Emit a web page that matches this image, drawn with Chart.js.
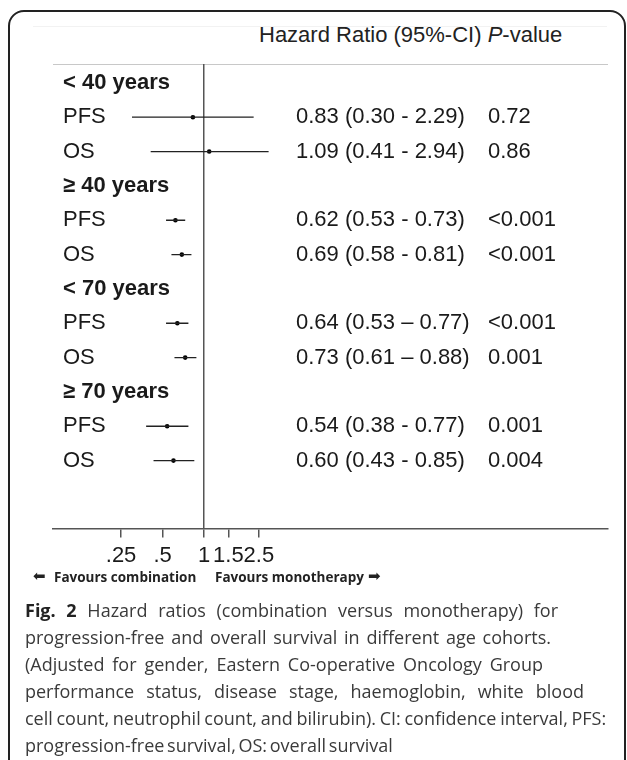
<!DOCTYPE html>
<html>
<head>
<meta charset="utf-8">
<script src="https://cdn.jsdelivr.net/npm/chart.js@4.4.1/dist/chart.umd.min.js"></script>
<style>
    html, body { margin: 0; padding: 0; background: #fff; }
    body { width: 627px; height: 760px; position: relative; overflow: hidden; }
    .frame {
        position: absolute; left: 8px; top: 10px; width: 618px; height: 780px;
        box-sizing: border-box; border: 2px solid #222; border-radius: 16px;
    }
    .faint-rule { position: absolute; left: 33px; top: 26px; width: 574px; height: 1px; background: #f2f2f2; }
    .head-rule { position: absolute; left: 53px; top: 64px; width: 555px; height: 1px; background: #c8c8c8; }
    .col-head {
        position: absolute; left: 259px; top: 22px; font: 22px "Liberation Sans", Arial, sans-serif;
        line-height: 26px; color: #222; white-space: nowrap;
    }
    #chartBox { position: absolute; left: 0; top: 0; width: 627px; height: 600px; }
    .favours {
        position: absolute; top: 568px; font: bold 13.5px "Open Sans", sans-serif; line-height: 18px;
        color: #222; white-space: nowrap;
    }
    .arrow { position: absolute; top: 566px; font: 15px "DejaVu Sans", sans-serif; line-height: 20px; color: #222; }
    .caption {
        position: absolute; left: 25px; top: 597px; font: 18px "Open Sans", sans-serif;
        line-height: 27px; color: #3a3a3a; white-space: nowrap;
    }
    .caption div { text-align: justify; text-align-last: justify; }
    .caption b { color: #222; }
</style>
</head>
<body>
<div class="frame"></div>
<div class="faint-rule"></div>
<div class="col-head">Hazard Ratio (95%-CI) <i>P</i>-value</div>
<div class="head-rule"></div>
<div id="chartBox"><canvas id="forestChart"></canvas></div>
<div class="arrow" style="left:33px">⬅</div>
<div class="favours" style="left:54px">Favours combination</div>
<div class="favours" style="left:215px">Favours monotherapy</div>
<div class="arrow" style="left:368px">➡</div>
<div class="caption">
    <div style="width:533px"><b>Fig. 2</b> Hazard ratios (combination versus monotherapy) for</div>
    <div style="width:526px">progression-free and overall survival in different age cohorts.</div>
    <div style="width:518px">(Adjusted for gender, Eastern Co-operative Oncology Group</div>
    <div style="width:559px">performance status, disease stage, haemoglobin, white blood</div>
    <div style="text-align:left;text-align-last:left;word-spacing:-1px">cell count, neutrophil count, and bilirubin). CI: confidence interval, PFS:</div>
    <div style="text-align:left;text-align-last:left;word-spacing:-2px">progression-free survival, OS: overall survival</div>
</div>

<script>
// Rows of the forest plot, top to bottom
const rowLabels = ['< 40 years', 'PFS', 'OS', '≥ 40 years', 'PFS', 'OS',
                   '< 70 years', 'PFS', 'OS', '≥ 70 years', 'PFS', 'OS'];
const hazardRatio = [null, 0.83, 1.09, null, 0.62, 0.69, null, 0.64, 0.73, null, 0.54, 0.60];
const ciLow = [null, 0.30, 0.41, null, 0.53, 0.58, null, 0.53, 0.61, null, 0.38, 0.43];
const ciHigh = [null, 2.29, 2.94, null, 0.73, 0.81, null, 0.77, 0.88, null, 0.77, 0.85];
const hrText = ['', '0.83 (0.30 - 2.29)', '1.09 (0.41 - 2.94)', '',
                '0.62 (0.53 - 0.73)', '0.69 (0.58 - 0.81)', '',
                '0.64 (0.53 – 0.77)', '0.73 (0.61 – 0.88)', '',
                '0.54 (0.38 - 0.77)', '0.60 (0.43 - 0.85)'];
const pText = ['', '0.72', '0.86', '', '<0.001', '<0.001', '', '<0.001', '0.001', '', '0.001', '0.004'];
const xTicks = [0.25, 0.5, 1, 1.5, 2.5];
const xTickLabels = ['.25', '.5', '1', '1.5', '2.5'];

const FONT = '"Liberation Sans", Arial, sans-serif';
const isHeader = i => hazardRatio[i] === null;

// CI segments, broken by empty points between rows
const ciPoints = [];
rowLabels.forEach((_, i) => {
    if (isHeader(i)) return;
    ciPoints.push({ x: ciLow[i], y: i }, { x: ciHigh[i], y: i }, { x: null, y: null });
});
const hrPoints = [];
rowLabels.forEach((_, i) => {
    if (!isHeader(i)) hrPoints.push({ x: hazardRatio[i], y: i });
});

// Estimate / CI / p-value columns
const textColumns = {
    id: 'textColumns',
    afterDraw(chart) {
        const ctx = chart.ctx;
        const y = chart.scales.y;
        ctx.save();
        ctx.font = '22px ' + FONT;
        ctx.fillStyle = '#1a1a1a';
        ctx.textBaseline = 'middle';
        ctx.textAlign = 'left';
        rowLabels.forEach((_, i) => {
            const py = y.getPixelForValue(i);
            if (hrText[i]) ctx.fillText(hrText[i], 296, py);
            if (pText[i]) ctx.fillText(pText[i], 488, py);
        });
        ctx.restore();
    }
};

new Chart(document.getElementById('forestChart'), {
    type: 'scatter',
    data: {
        datasets: [{
            data: ciPoints,
            showLine: true,
            spanGaps: false,
            borderColor: '#222',
            borderWidth: 1.3,
            pointRadius: 0
        }, {
            data: hrPoints,
            pointRadius: 2.3,
            pointBackgroundColor: '#000',
            pointBorderWidth: 0
        }]
    },
    options: {
        responsive: true,
        maintainAspectRatio: false,
        animation: false,
        layout: { padding: { left: 53, right: 19, top: 64, bottom: 26 } },
        plugins: { legend: { display: false }, tooltip: { enabled: false } },
        scales: {
            x: {
                type: 'logarithmic',
                min: 0.0802,
                max: 852,
                afterBuildTicks: axis => { axis.ticks = xTicks.map(v => ({ value: v })); },
                ticks: {
                    autoSkip: false,
                    maxRotation: 0,
                    padding: 5,
                    color: '#1a1a1a',
                    font: { family: FONT, size: 22 },
                    callback: value => xTickLabels[xTicks.indexOf(value)]
                },
                grid: {
                    color: ctx => (ctx.tick && ctx.tick.value === 1 ? '#555' : 'rgba(0,0,0,0)'),
                    tickColor: '#555',
                    tickLength: 9,
                    lineWidth: 1.5
                },
                border: { display: true, color: '#555', width: 1.5 }
            },
            y: {
                type: 'linear',
                reverse: true,
                min: -0.55,
                max: 12.98,
                afterFit: axis => { axis.width = 0; },
                afterBuildTicks: axis => { axis.ticks = rowLabels.map((_, i) => ({ value: i })); },
                ticks: {
                    mirror: true,
                    padding: 10,
                    color: '#1a1a1a',
                    font: ctx => ({ family: FONT, size: 22, weight: isHeader(ctx.index) ? 'bold' : 'normal' }),
                    callback: (value, index) => rowLabels[index]
                },
                grid: { display: false },
                border: { display: false }
            }
        }
    },
    plugins: [textColumns]
});
</script>
</body>
</html>
